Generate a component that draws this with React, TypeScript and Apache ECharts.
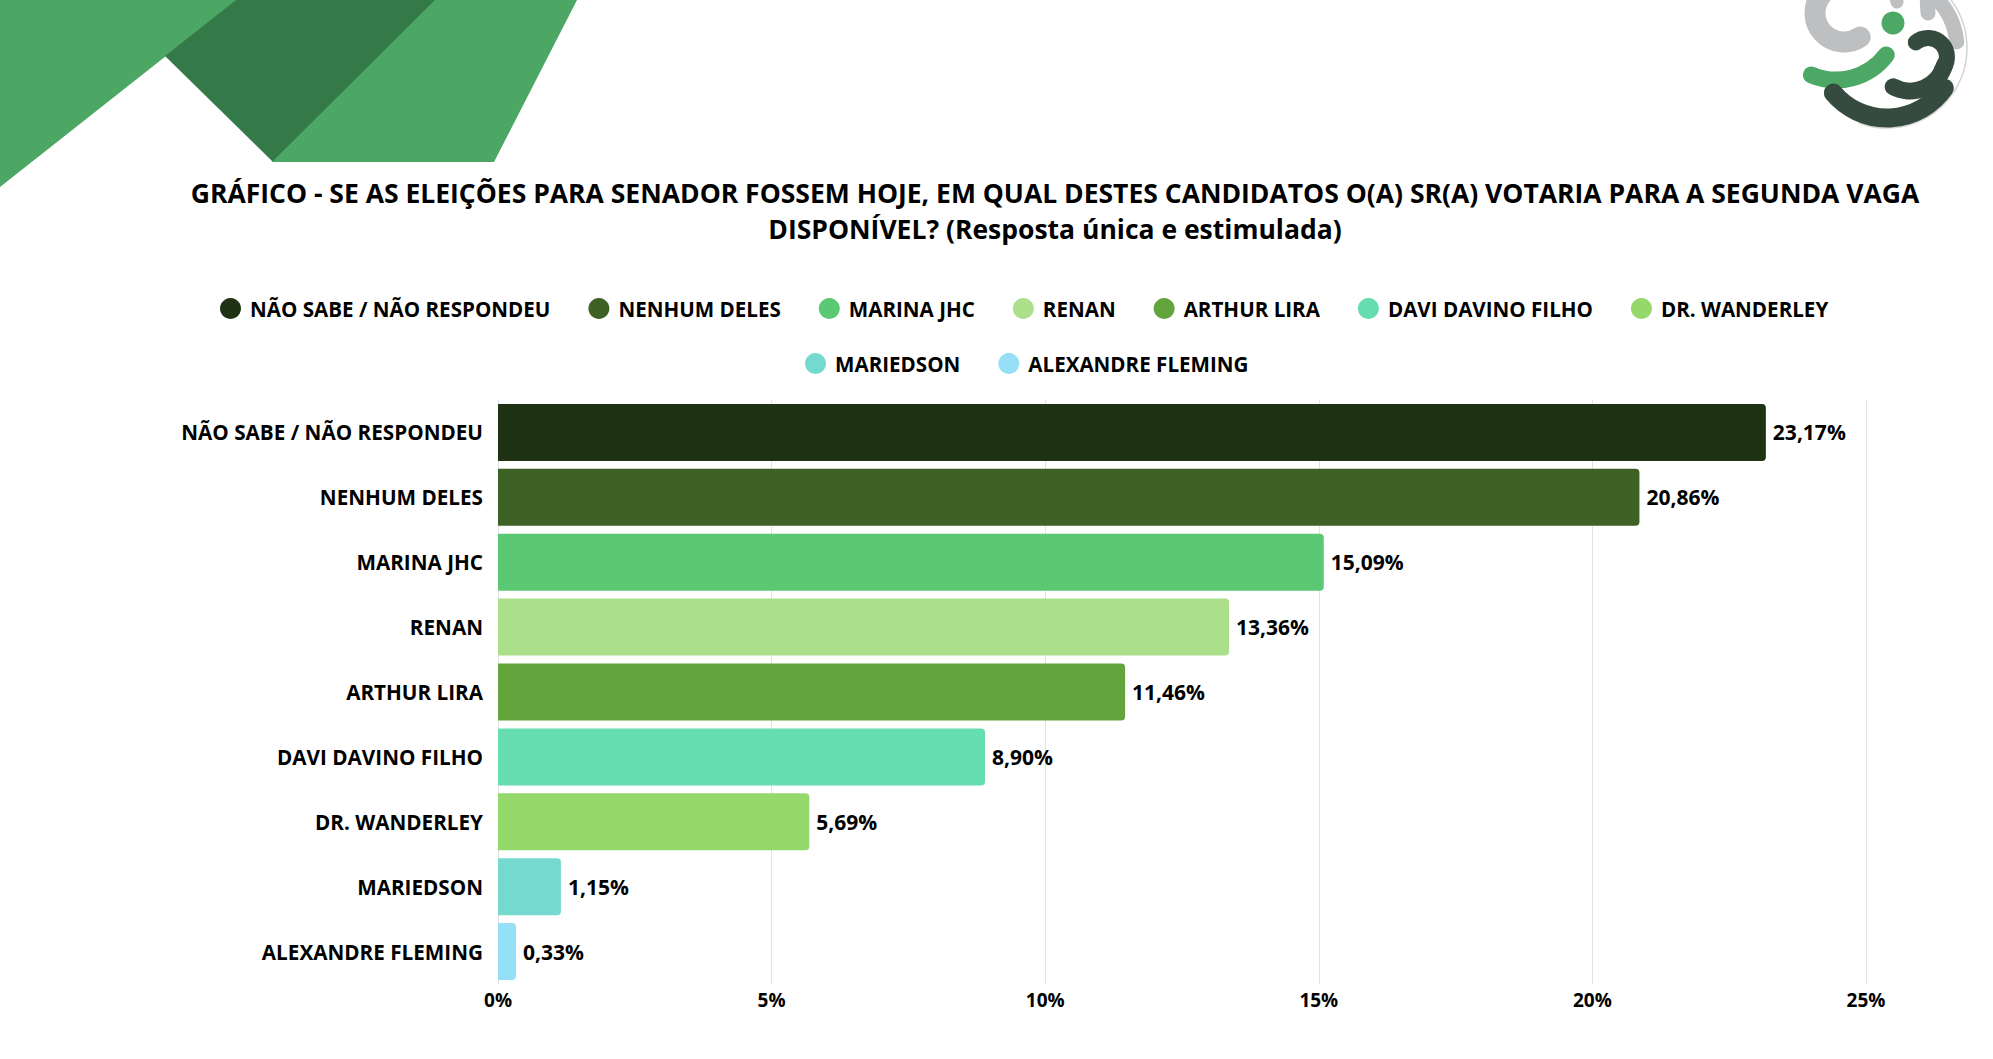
import React, { useEffect, useRef } from "react";
import * as echarts from "echarts";

const categories = [
  "NÃO SABE / NÃO RESPONDEU",
  "NENHUM DELES",
  "MARINA JHC",
  "RENAN",
  "ARTHUR LIRA",
  "DAVI DAVINO FILHO",
  "DR. WANDERLEY",
  "MARIEDSON",
  "ALEXANDRE FLEMING",
];
const values = [23.17, 20.86, 15.09, 13.36, 11.46, 8.9, 5.69, 1.15, 0.33];
const colors = [
  "#1f3314",
  "#3e6225",
  "#5bc873",
  "#abdf89",
  "#64a43c",
  "#66dcb1",
  "#95d86c",
  "#76d9cf",
  "#96e0f7",
];
const xTicks = [0, 5, 10, 15, 20, 25];
const titleLines = [
  "GRÁFICO - SE AS ELEIÇÕES PARA SENADOR FOSSEM HOJE, EM QUAL DESTES CANDIDATOS O(A) SR(A) VOTARIA PARA A SEGUNDA VAGA",
  "DISPONÍVEL? (Resposta única e estimulada)",
];

const FONT = "'Open Sans', 'Noto Sans', sans-serif";

function fmt(v: number) {
  return v.toFixed(2).replace(".", ",") + "%";
}

export default function App() {
  const ref = useRef<HTMLDivElement>(null);
  useEffect(() => {
    if (!ref.current) return;
    const chart = echarts.init(ref.current, undefined, { renderer: "svg" });
    const series = categories.map((name, i) => ({
      name,
      type: "bar",
      stack: "total",
      barWidth: 57,
      data: categories.map((_, j) => (j === i ? values[i] : null)),
      itemStyle: { color: colors[i], borderRadius: [0, 4, 4, 0] },
      label: {
        show: true,
        position: "right",
        distance: 7,
        color: "#000",
        fontFamily: FONT,
        fontWeight: "bold",
        fontSize: 21,
        formatter: (p: any) => fmt(p.value),
      },
    }));
    const grey = "#bebfc1";
    const green = "#4ca864";
    const dark = "#364b40";
    const arc = (cx: number, cy: number, r: number, a0: number, a1: number, w: number, c: string) => ({
      type: "arc",
      shape: { cx, cy, r, startAngle: (a0 * Math.PI) / 180, endAngle: (a1 * Math.PI) / 180, clockwise: true },
      style: { stroke: c, lineWidth: w, fill: "none", lineCap: "round" },
      silent: true,
    });
    const legendBase = {
      icon: "circle",
      itemWidth: 21,
      itemHeight: 21,
      itemGap: 38,
      padding: 0,
      selectedMode: false,
      textStyle: { fontFamily: FONT, fontWeight: "bold", fontSize: 20.6, color: "#000", padding: [0, 0, 0, 4] },
    };
    chart.setOption({
      animation: false,
      backgroundColor: "#ffffff",
      textStyle: { fontFamily: FONT },
      grid: { left: 498, right: 127, top: 400, height: 584 },
      legend: [
        { ...legendBase, data: categories.slice(0, 7), left: 220, top: 298 },
        { ...legendBase, data: categories.slice(7), left: 805, top: 353 },
      ],
      xAxis: {
        type: "value",
        min: xTicks[0],
        max: xTicks[xTicks.length - 1],
        interval: 5,
        axisLine: { show: false },
        axisTick: { show: false },
        splitLine: { show: true, lineStyle: { color: "#e2e2e2", width: 1 } },
        axisLabel: {
          margin: 6,
          color: "#000",
          fontFamily: FONT,
          fontWeight: "bold",
          fontSize: 19,
          formatter: (v: number) => v + "%",
        },
      },
      yAxis: {
        type: "category",
        data: categories,
        inverse: true,
        axisLine: { show: false },
        axisTick: { show: false },
        axisLabel: {
          margin: 15,
          color: "#000",
          fontFamily: FONT,
          fontWeight: "bold",
          fontSize: 20.7,
        },
      },
      series,
      graphic: [
        { type: "polygon", shape: { points: [[0, 0], [237, 0], [0, 187]] }, style: { fill: "#4ca764" }, silent: true },
        { type: "polygon", shape: { points: [[236, 0], [436, 0], [273, 162], [165, 56]] }, style: { fill: "#347a48" }, silent: true },
        { type: "polygon", shape: { points: [[435, 0], [577, 0], [494, 162], [272, 162]] }, style: { fill: "#4ca764" }, silent: true },
        // logo
        arc(1887, 48, 80, -40, 110, 1.5, "#d4d4d4"),
        arc(1844, 13, 29, 56, 300, 21, grey),
        { type: "line", shape: { x1: 1927, y1: -5, x2: 1928, y2: 13 }, style: { stroke: grey, lineWidth: 15, lineCap: "round" }, silent: true },
        { type: "line", shape: { x1: 1895, y1: -5, x2: 1897, y2: 2 }, style: { stroke: grey, lineWidth: 13, lineCap: "round" }, silent: true },
        arc(1887, 48, 70, -62, -5, 15, grey),
        { type: "circle", shape: { cx: 1893, cy: 23, r: 11.5 }, style: { fill: green }, silent: true },
        arc(1836, 17, 63, 37, 113, 17, green),
        arc(1887, 48, 70, 35, 140, 19, dark),
        arc(1910, 55, 36, 15, 118, 17, dark),
        arc(1928, 57, 19, -130, 45, 16, dark),
        ...titleLines.map((t, i) => ({
          type: "text",
          x: 1055,
          y: 193 + i * 36,
          silent: true,
          style: {
            text: t,
            textAlign: "center",
            textVerticalAlign: "middle",
            fontFamily: FONT,
            fontWeight: "bold",
            fontSize: 26.5,
            fill: "#000",
          },
        })),
      ],
    });
    return () => chart.dispose();
  }, []);
  return (
    <div
      ref={ref}
      style={{ position: "fixed", left: 0, top: 0, width: 1993, height: 1059, background: "#fff" }}
    />
  );
}
